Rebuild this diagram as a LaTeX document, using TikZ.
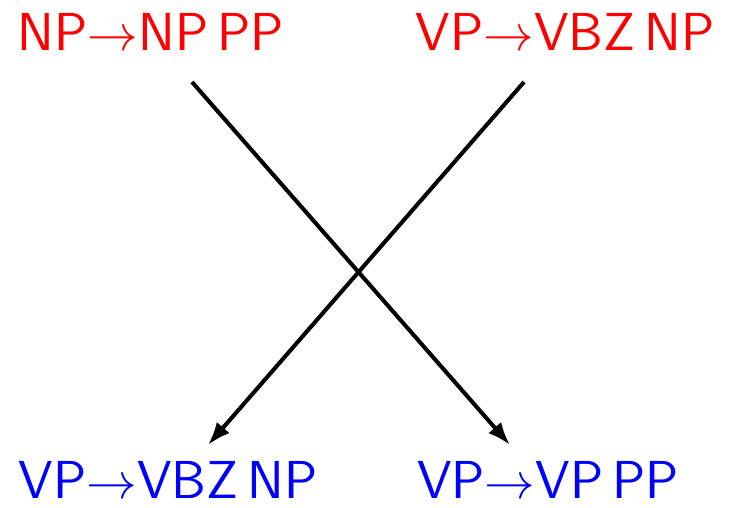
\documentclass[tikz,border=0pt]{standalone}
\usepackage{amsmath}
\usepackage{xcolor}
\usepackage{tikz}
\usetikzlibrary{positioning,arrows.meta}
\newcommand{\rgap}{\hspace{2.6pt}}

\begin{document}
\begin{tikzpicture}[
    rule/.style={font=\sffamily\fontsize{15.2}{18}\selectfont, inner sep=0pt, anchor=base},
    src/.style={rule, text=red},
    tgt/.style={rule, text=blue},
    arrow/.style={-{Latex[length=2.3mm,width=1.7mm]}, line width=1.15pt}
]
\useasboundingbox (0,0) rectangle (7.34,5.07);
% rules before
\node[src] at (1.51,4.57) (npl) {NP$\rightarrow$NP\rgap PP};
\node[src] at (5.65,4.57) (vpl) {VP$\rightarrow$VBZ\rgap NP};
% rules after
\node[tgt] at (1.68,0.09) (vpb) {VP$\rightarrow$VBZ\rgap NP};
\node[tgt] at (5.48,0.09) (vpp) {VP$\rightarrow$VP\rgap PP};
% arrow ends
\coordinate (a1) at (1.92,4.25);
\coordinate (a2) at (5.24,4.25);
\coordinate (b1) at (2.08,0.62);
\coordinate (b2) at (5.10,0.62);

\draw[arrow] (a1) -- (b2);
\draw[arrow] (a2) -- (b1);
\end{tikzpicture}
\end{document}
